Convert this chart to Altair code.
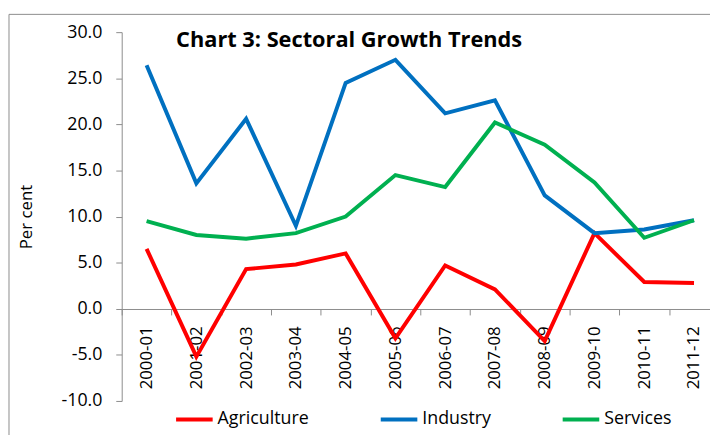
import altair as alt
import pandas as pd

years = ["2000-01", "2001-02", "2002-03", "2003-04", "2004-05", "2005-06",
         "2006-07", "2007-08", "2008-09", "2009-10", "2010-11", "2011-12"]
agriculture = [6.5, -5.2, 4.3, 4.8, 6.0, -3.2, 4.7, 2.1, -3.5, 8.2, 2.9, 2.8]
industry = [26.4, 13.6, 20.6, 9.0, 24.5, 27.0, 21.2, 22.6, 12.3, 8.2, 8.6, 9.6]
services = [9.5, 8.0, 7.6, 8.2, 10.0, 14.5, 13.2, 20.2, 17.8, 13.7, 7.7, 9.6]
series_names = ["Agriculture", "Industry", "Services"]
series_colors = ["#FF0000", "#0070C0", "#00B050"]
y_ticks = [-10, -5, 0, 5, 10, 15, 20, 25, 30]
chart_title = "Chart 3: Sectoral Growth Trends"

rows = []
for name, vals in zip(series_names, [agriculture, industry, services]):
    for y, v in zip(years, vals):
        rows.append({"Year": y, "Series": name, "Value": v})
df = pd.DataFrame(rows)

FONT = "Open Sans"
GRAY = "#8C8C8C"

lines = alt.Chart(df).mark_line(strokeWidth=4).encode(
    x=alt.X("Year:N", sort=years,
            scale=alt.Scale(range=[0, 604], paddingInner=0, paddingOuter=0),
            axis=alt.Axis(title=None, labelAngle=270, tickBand="extent",
                          offset=-93, domainColor=GRAY, tickColor=GRAY,
                          tickSize=6, labelPadding=11, labelFontSize=17,
                          labelFont=FONT, labelColor="black", grid=False)),
    y=alt.Y("Value:Q",
            scale=alt.Scale(domain=[-10, 30], nice=False, zero=False),
            axis=alt.Axis(title="Per cent", values=y_ticks,
                          labelExpr="(datum.value < 0 ? '-' : '') + format(abs(datum.value), '.1f')",
                          domainColor=GRAY, tickColor=GRAY, tickSize=6,
                          labelPadding=14, labelFontSize=18, labelFont=FONT,
                          labelColor="black", titleFont=FONT, titleFontSize=17,
                          titleFontWeight="normal", titleColor="black",
                          titlePadding=26, grid=False)),
    color=alt.Color("Series:N", sort=series_names,
                    scale=alt.Scale(domain=series_names, range=series_colors),
                    legend=alt.Legend(title=None, orient="none", legendX=53,
                                      legendY=371, direction="horizontal",
                                      symbolType="stroke", symbolSize=1369,
                                      symbolStrokeWidth=4, labelFontSize=18,
                                      labelFont=FONT, labelColor="black",
                                      labelOffset=3, columnPadding=64,
                                      padding=0)),
)

title_df = pd.DataFrame({"t": [chart_title]})
title = alt.Chart(title_df).mark_text(
    align="left", baseline="alphabetic", fontSize=22, fontWeight="bold",
    font=FONT, color="black"
).encode(x=alt.value(55), y=alt.value(15), text="t:N")

frame_df = pd.DataFrame({"f": [0]})
frame_left = alt.Chart(frame_df).mark_rule(color=GRAY, strokeWidth=1).encode(
    x=alt.value(-114), y=alt.value(-18), y2=alt.value(420))
frame_top = alt.Chart(frame_df).mark_rule(color=GRAY, strokeWidth=1).encode(
    y=alt.value(-18), x=alt.value(-114), x2=alt.value(620))

chart = alt.layer(frame_left, frame_top, lines, title).properties(
    width=595, height=373,
    autosize=alt.AutoSizeParams(type="none"),
    padding={"left": 115, "top": 22, "right": 0, "bottom": 32},
).configure_view(strokeWidth=0)

chart.save("out.html", embed_options={"renderer": "svg", "actions": False})
